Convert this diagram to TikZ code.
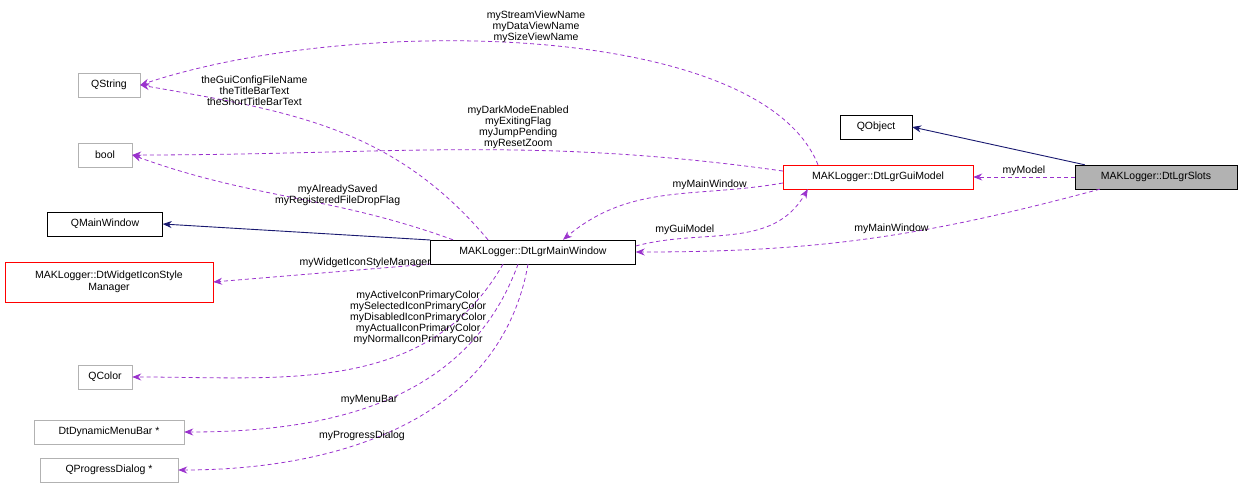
\documentclass[tikz,border=0pt]{standalone}
\usepackage{fontspec}
\setmainfont{Liberation Sans}
\usetikzlibrary{arrows.meta, calc}
\definecolor{edgepurple}{HTML}{9A32CD}
\definecolor{edgenavy}{HTML}{191970}
\tikzset{
  classbox/.style={rectangle,draw=black,inner sep=2pt,minimum height=24pt,font=\fontsize{10.5}{12}\selectfont,align=center},
  extbox/.style={classbox,draw=black!30},
  redbox/.style={classbox,draw=red},
  usage/.style={-{Stealth[length=9pt,width=7pt]},edgepurple,line width=0.8pt,dash pattern=on 4pt off 3pt},
  inherit/.style={-{Stealth[length=9pt,width=7pt]},edgenavy,line width=0.9pt},
  lbl/.style={font=\fontsize{10.5}{11}\selectfont,align=center,inner sep=1pt,text=black}
}
\begin{document}
\begin{tikzpicture}[x=1pt,y=-1pt]
\useasboundingbox (0,0) rectangle (1243,495);
\node[extbox, minimum width=62pt] (qstring) at (109,85) {QString};
\node[extbox, minimum width=54pt] (bool) at (105,155) {bool};
\node[classbox, minimum width=115pt] (qmainwin) at (105,224) {QMainWindow};
\node[redbox, minimum width=208pt, minimum height=40pt] (iconmgr) at (109,282) {MAKLogger::DtWidgetIconStyle\\Manager};
\node[extbox, minimum width=54pt] (qcolor) at (105,377) {QColor};
\node[extbox, minimum width=150pt] (menubar) at (109,432) {DtDynamicMenuBar *};
\node[extbox, minimum width=138pt] (progress) at (109,470) {QProgressDialog *};
\node[classbox, minimum width=72pt] (qobject) at (876,127) {QObject};
\node[redbox, minimum width=190pt] (guimodel) at (878,177) {MAKLogger::DtLgrGuiModel};
\node[classbox, fill=black!30, minimum width=162pt] (slots) at (1156,177) {MAKLogger::DtLgrSlots};
\node[classbox, minimum width=205pt] (mainwin) at (533,252) {MAKLogger::DtLgrMainWindow};

% inheritance
\draw[inherit] ($(slots.north west)+(10,0)$) -- (qobject.east);
\draw[inherit] ($(mainwin.west)+(0,-12)$) -- (qmainwin.east);

% slots members
\draw[usage] (slots.west) -- node[lbl,above] {myModel} (guimodel.east);
\draw[usage] ($(slots.south west)+(25,0)$) to[out=195,in=0] node[lbl,above,pos=0.45] {myMainWindow} (mainwin.east);

% gui model <-> main window
\draw[usage] ($(guimodel.west)+(0,6)$) to[out=190,in=40] node[lbl,above,pos=0.3] {myMainWindow} ($(mainwin.north)+(30,0)$);
\draw[usage] ($(mainwin.east)+(0,-6)$) to[out=15,in=240] node[lbl,above left,pos=0.4] {myGuiModel} ($(guimodel.south west)+(25,0)$);

% gui model members
\draw[usage] ($(guimodel.north)+(-60,0)$) .. controls (760,20) and (350,15) .. node[lbl,above,pos=0.5] {myStreamViewName\\myDataViewName\\mySizeViewName} (qstring.east);
\draw[usage] ($(guimodel.west)+(0,-6)$) to[out=172,in=0] node[lbl,above,pos=0.4] {myDarkModeEnabled\\myExitingFlag\\myJumpPending\\myResetZoom} (bool.east);

% main window members
\draw[usage] ($(mainwin.north)+(-45,0)$) to[out=130,in=350] node[lbl,above,pos=0.72] {theGuiConfigFileName\\theTitleBarText\\theShortTitleBarText} (qstring.east);
\draw[usage] ($(mainwin.north)+(-80,0)$) to[out=160,in=340] node[lbl,above,pos=0.35] {myAlreadySaved\\myRegisteredFileDropFlag} (bool.east);
\draw[usage] ($(mainwin.west)+(0,12)$) -- node[lbl,above,pos=0.3] {myWidgetIconStyleManager} (iconmgr.east);
\draw[usage] ($(mainwin.south)+(-30,0)$) to[out=240,in=0] node[lbl,above,pos=0.3] {myActiveIconPrimaryColor\\mySelectedIconPrimaryColor\\myDisabledIconPrimaryColor\\myActualIconPrimaryColor\\myNormalIconPrimaryColor} (qcolor.east);
\draw[usage] ($(mainwin.south)+(-15,0)$) to[out=250,in=0] node[lbl,above,pos=0.55] {myMenuBar} (menubar.east);
\draw[usage] ($(mainwin.south)+(-5,0)$) to[out=260,in=0] node[lbl,above,pos=0.6] {myProgressDialog} (progress.east);
\end{tikzpicture}
\end{document}
